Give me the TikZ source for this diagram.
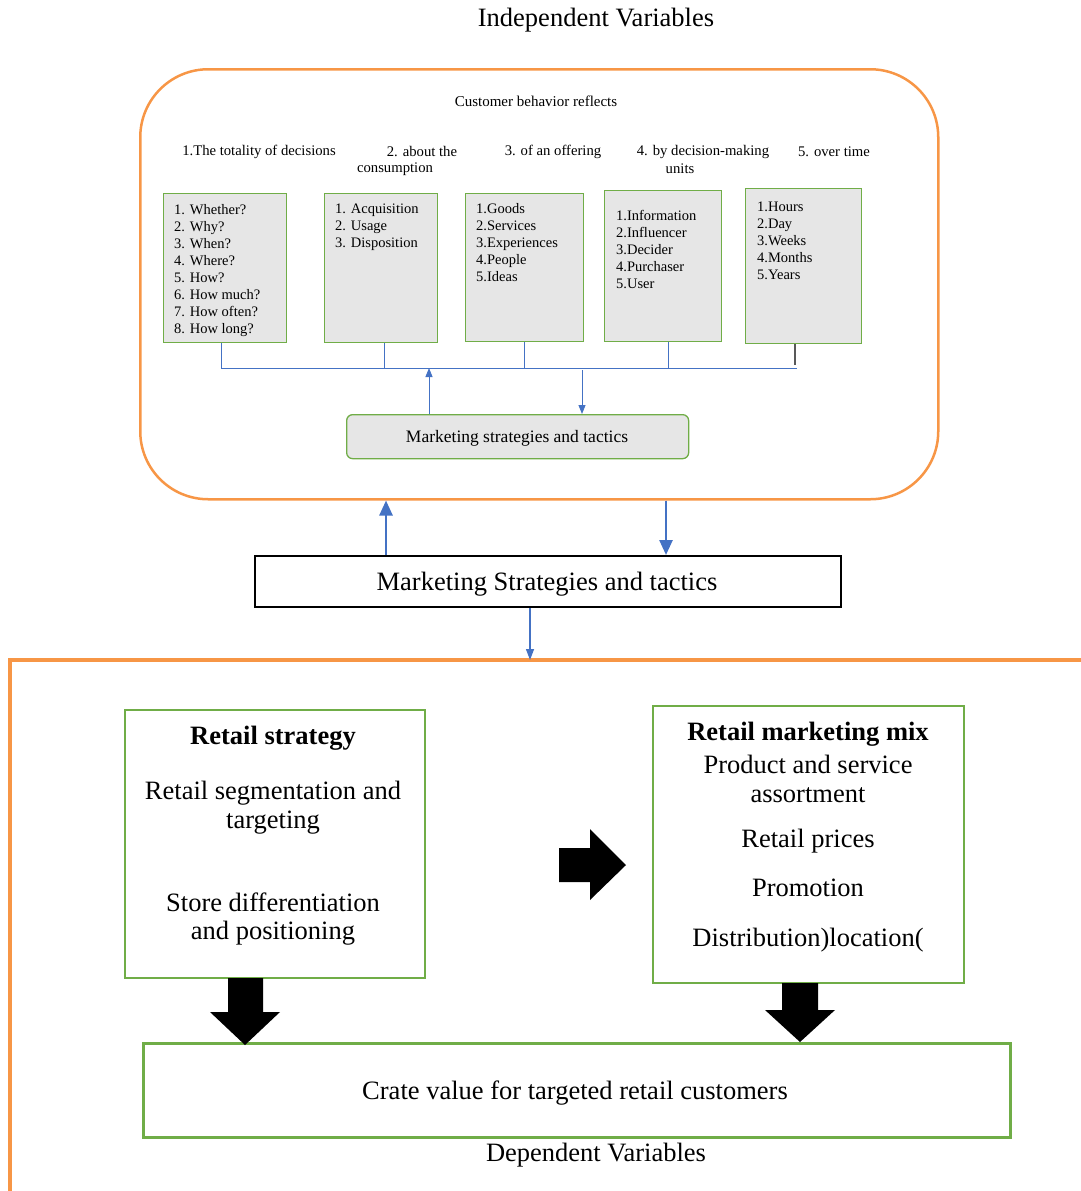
\documentclass[tikz,border=0pt]{standalone}
\usepackage{fontspec}
\setmainfont{Liberation Serif}
\usetikzlibrary{arrows.meta}
\definecolor{orng}{RGB}{247,150,70}
\definecolor{grn}{RGB}{112,173,71}
\definecolor{blu}{RGB}{68,114,196}
\definecolor{gry}{RGB}{230,230,230}
\begin{document}
\begin{tikzpicture}[x=1pt,y=-1pt,
  itembox/.style={draw=grn, line width=1.3pt, fill=gry, anchor=north west, inner sep=0pt},
  itemtext/.style={anchor=north west, align=left, inner sep=0pt, font=\fontsize{14.5}{17}\selectfont},
  headtext/.style={inner sep=0pt, yshift=-1pt, font=\fontsize{14.7}{16}\selectfont},
  greenbox/.style={draw=grn, line width=2pt, fill=white, anchor=north west, inner sep=0pt},
  bigtext/.style={inner sep=0pt, yshift=-2pt, font=\fontsize{26.5}{30}\selectfont},
  boldtext/.style={inner sep=0pt, yshift=-2pt, font=\fontsize{26.5}{30}\selectfont\bfseries},
  thinline/.style={draw=blu, line width=0.9pt},
  thinarrow/.style={draw=blu, line width=0.9pt, -{Triangle[width=7pt,length=9pt]}, fill=blu},
  thickarrow/.style={draw=blu, line width=2.5pt, -{Triangle[width=13pt,length=15pt]}, fill=blu},
  blockarrow/.style={fill=black, draw=none}
]
\useasboundingbox (0,0) rectangle (1080,1191);

% titles
\node[bigtext] (tIndep) at (596,18) {Independent Variables};
\node[bigtext] (tDep) at (596,1153) {Dependent Variables};

% outer orange rounded frame
\node[draw=orng, line width=2.5pt, rounded corners=68pt, minimum width=798pt, minimum height=430pt, anchor=north west, inner sep=0pt] (outer) at (139,68) {};

\node[headtext, font=\fontsize{15}{16}\selectfont] (cbr) at (536,100) {Customer behavior reflects};
\node[headtext] (h1) at (259,151) {1.The totality of decisions};
\node[headtext] (h2a) at (422,151) {2. about the};
\node[headtext] (h2b) at (395,168) {consumption};
\node[headtext] (h3) at (553,151) {3. of an offering};
\node[headtext] (h4a) at (703,151) {4. by decision-making};
\node[headtext] (h4b) at (680,168) {units};
\node[headtext] (h5) at (834,151) {5. over time};

% item boxes
\node[itembox, minimum width=123pt, minimum height=149pt] (b1) at (163,193) {};
\node[itembox, minimum width=113pt, minimum height=149pt] (b2) at (324,193) {};
\node[itembox, minimum width=118pt, minimum height=148pt] (b3) at (465,193) {};
\node[itembox, minimum width=117pt, minimum height=151pt] (b4) at (604,190) {};
\node[itembox, minimum width=116pt, minimum height=155pt] (b5) at (745,188) {};

\node[itemtext] (t1) at (174,204) {1. Whether?\\2. Why?\\3. When?\\4. Where?\\5. How?\\6. How much?\\7. How often?\\8. How long?};
\node[itemtext] (t2) at (335,204) {1. Acquisition\\2. Usage\\3. Disposition};
\node[itemtext] (t3) at (476,203) {1.Goods\\2.Services\\3.Experiences\\4.People\\5.Ideas};
\node[itemtext] (t4) at (616,210) {1.Information\\2.Influencer\\3.Decider\\4.Purchaser\\5.User};
\node[itemtext] (t5) at (757,202) {1.Hours\\2.Day\\3.Weeks\\4.Months\\5.Years};

% bus
\coordinate (busL) at (221,368);
\coordinate (busR) at (797,368);
\coordinate (x1) at (221,0);
\coordinate (x2) at (384,0);
\coordinate (x3) at (524,0);
\coordinate (x4) at (668,0);
\coordinate (x5) at (795,0);
\draw[thinline] (b1.south -| x1) -- (busL -| x1);
\draw[thinline] (b2.south -| x2) -- (busL -| x2);
\draw[thinline] (b3.south -| x3) -- (busL -| x3);
\draw[thinline] (b4.south -| x4) -- (busL -| x4);
\draw[draw=black!65, line width=1.2pt] (b5.south -| x5) -- ([yshift=3pt]busL -| x5);
\draw[thinline] (busL) -- (busR);

% inner marketing box
\node[draw=grn, line width=1.3pt, fill=gry, rounded corners=6pt, minimum width=342pt, minimum height=44pt, anchor=north west, inner sep=0pt] (ms1) at (346,414) {};
\node[inner sep=0pt, yshift=-1.5pt, font=\fontsize{17.5}{20}\selectfont] (ms1t) at (517,437) {Marketing strategies and tactics};
\coordinate (xu) at (429,0);
\coordinate (xd) at (582,0);
\draw[thinarrow] (ms1.north -| xu) -- (busL -| xu);
\draw[thinarrow] ([yshift=-2pt]busL -| xd) -- (ms1.north -| xd);

% middle box
\node[draw=black, line width=2pt, fill=white, minimum width=586pt, minimum height=51pt, anchor=north west, inner sep=0pt] (ms2) at (254,555) {};
\node[bigtext] (ms2t) at (547,582) {Marketing Strategies and tactics};
\coordinate (xa) at (386,0);
\coordinate (xb) at (666,0);
\draw[thickarrow] (ms2.north -| xa) -- (outer.south -| xa);
\draw[thickarrow] (outer.south -| xb) -- (ms2.north -| xb);

% lower orange frame
\coordinate (fTR) at (1090,660);
\coordinate (fTL) at (10,660);
\coordinate (fBL) at (10,1200);
\draw[orng, line width=4pt] (fTR) -- (fTL) -- (fBL);
\coordinate (xc) at (530,0);
\draw[draw=blu, line width=1.3pt, -{Triangle[width=8pt,length=11pt]}] (ms2.south -| xc) -- (fTL -| xc);

% retail strategy box
\node[greenbox, minimum width=300pt, minimum height=268pt] (rs) at (124,709) {};
\node[boldtext] (rs1) at (273,736) {Retail strategy};
\node[bigtext] (rs2) at (273,791) {Retail segmentation and};
\node[bigtext] (rs3) at (273,821) {targeting};
\node[bigtext] (rs4) at (273,900) {Store differentiation};
\node[bigtext] (rs5) at (273,931) {and positioning};

% retail marketing mix box
\node[greenbox, minimum width=311pt, minimum height=277pt] (rm) at (652,705) {};
\node[boldtext] (rm1) at (808,732) {Retail marketing mix};
\node[bigtext] (rm2) at (808,762) {Product and service};
\node[bigtext] (rm3) at (808,793) {assortment};
\node[bigtext] (rm4) at (808,839) {Retail prices};
\node[bigtext] (rm5) at (808,886) {Promotion};
\node[bigtext] (rm6) at (808,938) {Distribution)location(};

% bottom box
\node[greenbox, line width=2.5pt, minimum width=867pt, minimum height=94pt] (cv) at (142,1042) {};
\node[bigtext] (cvt) at (575,1091) {Crate value for targeted retail customers};

% block arrows
\fill[blockarrow] (559,848) -- (590,848) -- (590,829) -- (626,865) -- (590,900) -- (590,882) -- (559,882) -- cycle;
\fill[blockarrow] (228,978) -- (263,978) -- (263,1012) -- (280,1012) -- (245,1045) -- (210,1012) -- (228,1012) -- cycle;
\fill[blockarrow] (782,983) -- (818,983) -- (818,1010) -- (835,1010) -- (800,1042) -- (765,1010) -- (782,1010) -- cycle;
\end{tikzpicture}
\end{document}
